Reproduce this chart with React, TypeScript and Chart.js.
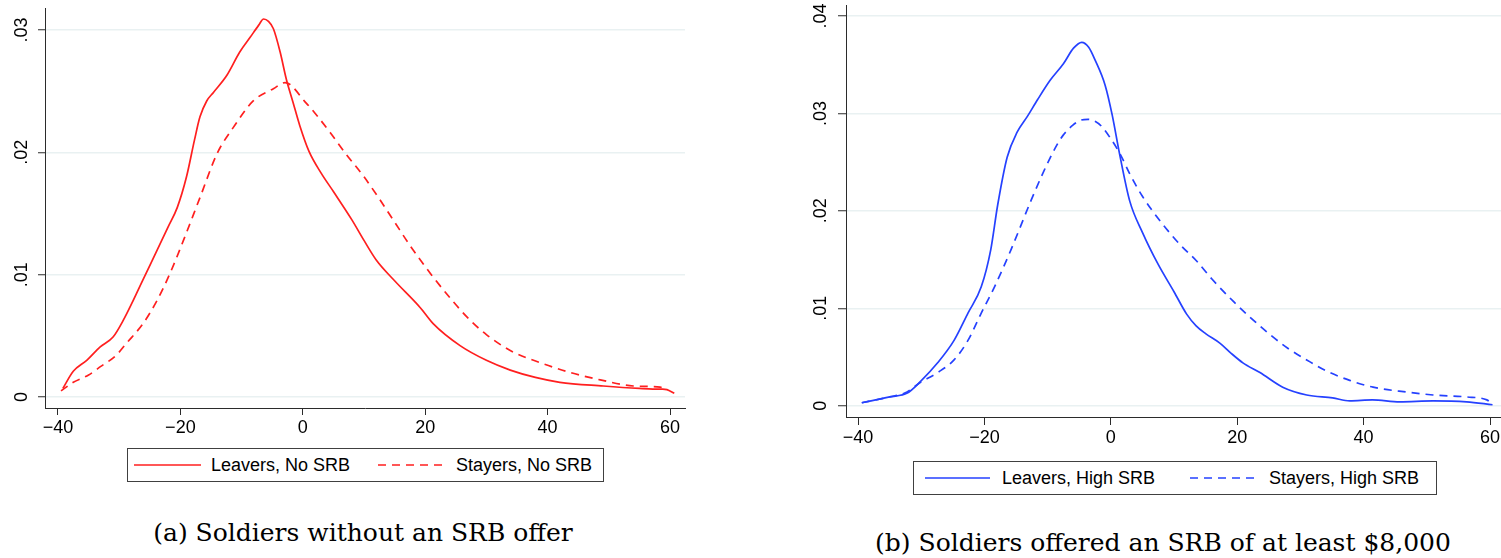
import React, { useEffect, useRef } from 'react';
import { Chart, registerables } from 'chart.js';

Chart.register(...registerables);

// Kernel density of the percentage change, panel (a): no SRB offer
const leaversNoSrbX = [-39.2, -37.5, -35.3, -33.1, -31, -29.3, -27.7, -26.1, -23.8, -22, -20.5, -19, -17.7, -16.8, -15.7, -14.6, -12.4, -10.3, -8.6, -7.2, -6.4, -5.6, -4.8, -3.7, -2.7, -1.6, -0.5, 1, 3, 5, 8, 10, 12, 15, 19.2, 21.3, 25.7, 30, 33.9, 38, 42, 49.1, 55, 57.2, 58.8, 59.5, 60.7];
const leaversNoSrbY = [0.0007, 0.0021, 0.003, 0.0041, 0.0049, 0.0063, 0.0079, 0.0096, 0.012, 0.0139, 0.0155, 0.018, 0.021, 0.0229, 0.0242, 0.0249, 0.0263, 0.0282, 0.0294, 0.0304, 0.0309, 0.0307, 0.0301, 0.0282, 0.026, 0.0241, 0.0222, 0.0201, 0.0183, 0.0168, 0.0145, 0.0128, 0.0112, 0.0095, 0.0073, 0.006, 0.0042, 0.003, 0.0022, 0.0016, 0.0012, 0.0009, 0.0007, 0.00065, 0.00065, 0.0006, 0.0003];

const stayersNoSrbX = [-39.5, -37.5, -35, -33, -30.5, -28.8, -26.1, -23.8, -21.7, -19.5, -16.8, -14, -11.4, -8.1, -4.8, -2.9, 0.6, 2, 4.5, 7, 10, 12.5, 15, 17.5, 21, 24.4, 27.3, 30, 33.9, 38.8, 43.7, 48.6, 54, 58.4, 59.5];
const stayersNoSrbY = [0.0005, 0.0012, 0.0018, 0.0025, 0.0034, 0.0044, 0.006, 0.0079, 0.0101, 0.0128, 0.0163, 0.0199, 0.022, 0.0242, 0.0252, 0.0257, 0.024, 0.0232, 0.0216, 0.0199, 0.018, 0.0162, 0.0143, 0.0124, 0.01, 0.0079, 0.0063, 0.0051, 0.0038, 0.0028, 0.002, 0.0014, 0.0009, 0.0008, 0.0006];

// Panel (b): SRB offer of at least $8,000
const leaversHighSrbX = [-39.4, -35, -32.2, -30.1, -27.4, -24.8, -22.6, -20.5, -19, -17.9, -16.4, -14.8, -13.2, -11.6, -9.6, -7.5, -5.9, -4.6, -3.5, -2.5, -0.9, 0.2, 1.4, 3, 5, 7.5, 10, 12, 13.5, 15, 17.3, 19, 20.9, 23.6, 27.2, 31, 35.1, 37.8, 41.4, 45.7, 51, 56.3, 60.4];
const leaversHighSrbY = [0.0003, 0.0009, 0.0013, 0.0025, 0.0044, 0.0067, 0.0095, 0.0122, 0.016, 0.0206, 0.0255, 0.0281, 0.0297, 0.0314, 0.0334, 0.0351, 0.0367, 0.0373, 0.0368, 0.0355, 0.0329, 0.0299, 0.0258, 0.021, 0.0178, 0.0145, 0.0117, 0.0094, 0.0082, 0.0074, 0.0064, 0.0054, 0.0044, 0.0034, 0.0019, 0.0011, 0.0008, 0.0005, 0.0006, 0.0004, 0.0005, 0.0004, 0.0001];

const stayersHighSrbX = [-39.4, -35, -32.6, -30.1, -27.4, -24.8, -22.6, -20.5, -18.4, -15.8, -12.6, -11, -10, -8.5, -7.5, -6, -4.8, -3.6, -2.5, -1.5, 0, 1.5, 3, 5, 8, 11, 13.5, 16, 19.4, 22, 25, 28, 31, 34, 37.8, 41.5, 46.8, 51, 56.3, 59.5, 60.2];
const stayersHighSrbY = [0.0003, 0.0009, 0.0013, 0.0024, 0.0034, 0.0047, 0.0067, 0.0095, 0.0122, 0.016, 0.0211, 0.0235, 0.0249, 0.0268, 0.0278, 0.0288, 0.0293, 0.0294, 0.0292, 0.0287, 0.0274, 0.0258, 0.0238, 0.0215, 0.0188, 0.0165, 0.0149, 0.013, 0.0107, 0.0091, 0.0074, 0.0059, 0.0047, 0.0036, 0.0026, 0.0019, 0.0014, 0.0011, 0.0009, 0.0006, 0.0003];

const xTickValues = [-40, -20, 0, 20, 40, 60];
const yTicksA = [0, 0.01, 0.02, 0.03];
const yTicksB = [0, 0.01, 0.02, 0.03, 0.04];

const RED = '#ff1f1f';
const BLUE = '#2541ff';
const AXIS = '#2b2b2b';
const GRID = '#e9f1f2';
const SANS = '"Liberation Sans", Arial, Helvetica, sans-serif';
const SERIF = '"DejaVu Serif", serif';

const toPoints = (xs: number[], ys: number[]) => xs.map((x, i) => ({ x, y: ys[i] }));
const fmtX = (v: number) => (v < 0 ? '\u2212' + Math.abs(v) : String(v));
const fmtY = (v: number) => (v === 0 ? '0' : v.toFixed(2).replace(/^0/, ''));

type PanelProps = {
  left: number;
  top: number;
  width: number;
  height: number;
  padTop: number;
  padRight: number;
  yAxisWidth: number;
  xAxisHeight: number;
  tickLen: number;
  yLabelPad: number;
  xLabelPad: number;
  fontSize: number;
  xMin: number;
  xMax: number;
  yMin: number;
  yMax: number;
  yTicks: number[];
  color: string;
  solidLabel: string;
  dashedLabel: string;
  solid: { x: number; y: number }[];
  dashed: { x: number; y: number }[];
};

function DensityPanel(p: PanelProps) {
  const ref = useRef<HTMLCanvasElement | null>(null);
  useEffect(() => {
    if (!ref.current) return;
    const chart = new Chart(ref.current, {
      type: 'line',
      data: {
        datasets: [
          {
            label: p.solidLabel,
            data: p.solid,
            borderColor: p.color,
            borderWidth: 1.7,
            pointRadius: 0,
            cubicInterpolationMode: 'monotone',
            fill: false,
          },
          {
            label: p.dashedLabel,
            data: p.dashed,
            borderColor: p.color,
            borderWidth: 1.7,
            borderDash: [8, 6],
            pointRadius: 0,
            cubicInterpolationMode: 'monotone',
            fill: false,
          },
        ],
      },
      options: {
        animation: false,
        responsive: false,
        maintainAspectRatio: false,
        events: [],
        layout: { padding: { top: p.padTop, right: p.padRight, left: 0, bottom: 0 } },
        plugins: { legend: { display: false }, tooltip: { enabled: false } },
        scales: {
          x: {
            type: 'linear',
            min: p.xMin,
            max: p.xMax,
            afterBuildTicks: (s: any) => {
              s.ticks = xTickValues.map((v) => ({ value: v }));
            },
            afterFit: (s: any) => {
              s.height = p.xAxisHeight;
              s.paddingLeft = 0;
              s.paddingRight = 0;
            },
            grid: { drawOnChartArea: false, drawTicks: true, tickLength: p.tickLen, tickColor: AXIS, tickWidth: 1 },
            border: { color: AXIS, width: 1 },
            ticks: {
              autoSkip: false,
              maxRotation: 0,
              padding: p.xLabelPad,
              color: '#000',
              font: { family: SANS, size: p.fontSize },
              callback: (v: any) => fmtX(Number(v)),
            },
          },
          y: {
            type: 'linear',
            min: p.yMin,
            max: p.yMax,
            afterBuildTicks: (s: any) => {
              s.ticks = p.yTicks.map((v) => ({ value: v }));
            },
            afterFit: (s: any) => {
              s.width = p.yAxisWidth;
              s.paddingTop = 0;
              s.paddingBottom = 0;
            },
            grid: { color: GRID, lineWidth: 1.5, drawTicks: true, tickLength: p.tickLen, tickColor: AXIS, tickWidth: 1 },
            border: { color: AXIS, width: 1 },
            ticks: {
              autoSkip: false,
              minRotation: 90,
              maxRotation: 90,
              crossAlign: 'center',
              padding: p.yLabelPad,
              color: '#000',
              font: { family: SANS, size: p.fontSize },
              callback: (v: any) => fmtY(Number(v)),
            },
          },
        },
      },
    } as any);
    return () => chart.destroy();
  }, []);
  return (
    <canvas
      ref={ref}
      width={p.width}
      height={p.height}
      style={{ position: 'absolute', left: p.left, top: p.top, width: p.width, height: p.height }}
    />
  );
}

type LegendProps = {
  left: number;
  top: number;
  width: number;
  height: number;
  color: string;
  fontSize: number;
  items: { label: string; dashed: boolean; x0: number; x1: number; textX: number }[];
};

function LegendBox(l: LegendProps) {
  return (
    <div
      style={{
        position: 'absolute',
        left: l.left,
        top: l.top,
        width: l.width,
        height: l.height,
        border: '1px solid #404040',
        boxSizing: 'border-box',
        background: '#fff',
      }}
    >
      <svg width={l.width} height={l.height} style={{ position: 'absolute', left: -1, top: -1 }}>
        {l.items.map((it, i) => (
          <line
            key={i}
            x1={it.x0}
            x2={it.x1}
            y1={l.height / 2}
            y2={l.height / 2}
            stroke={l.color}
            strokeWidth={1.7}
            strokeDasharray={it.dashed ? '8 6' : undefined}
          />
        ))}
      </svg>
      {l.items.map((it, i) => (
        <span
          key={i}
          style={{
            position: 'absolute',
            left: it.textX - 1,
            top: -1,
            height: l.height,
            lineHeight: l.height + 'px',
            fontFamily: SANS,
            fontSize: l.fontSize,
            color: '#000',
            whiteSpace: 'nowrap',
          }}
        >
          {it.label}
        </span>
      ))}
    </div>
  );
}

function Caption({ cx, cy, text }: { cx: number; cy: number; text: string }) {
  return (
    <div
      style={{
        position: 'absolute',
        left: cx,
        top: cy - 15,
        transform: 'translateX(-50%)',
        fontFamily: SERIF,
        fontSize: 25,
        lineHeight: '30px',
        color: '#000',
        whiteSpace: 'nowrap',
      }}
    >
      {text}
    </div>
  );
}

export default function App() {
  return (
    <div style={{ position: 'fixed', left: 0, top: 0, width: 1501, height: 558, background: '#fff', overflow: 'hidden' }}>
      <DensityPanel
        left={0}
        top={0}
        width={700}
        height={440}
        padTop={8}
        padRight={15}
        yAxisWidth={45}
        xAxisHeight={32}
        tickLen={7}
        yLabelPad={3}
        xLabelPad={2}
        fontSize={18}
        xMin={-42.12}
        xMax={62.45}
        yMin={-0.0009}
        yMax={0.0318}
        yTicks={yTicksA}
        color={RED}
        solidLabel="Leavers, No SRB"
        dashedLabel="Stayers, No SRB"
        solid={toPoints(leaversNoSrbX, leaversNoSrbY)}
        dashed={toPoints(stayersNoSrbX, stayersNoSrbY)}
      />
      <LegendBox
        left={127}
        top={448}
        width={477}
        height={34}
        color={RED}
        fontSize={18}
        items={[
          { label: 'Leavers, No SRB', dashed: false, x0: 7, x1: 74, textX: 84 },
          { label: 'Stayers, No SRB', dashed: true, x0: 251, x1: 318, textX: 329 },
        ]}
      />
      <Caption cx={363} cy={533} text="(a) Soldiers without an SRB offer" />

      <DensityPanel
        left={790}
        top={0}
        width={711}
        height={450}
        padTop={5}
        padRight={0}
        yAxisWidth={56}
        xAxisHeight={33}
        tickLen={8}
        yLabelPad={4}
        xLabelPad={2}
        fontSize={18}
        xMin={-41.9}
        xMax={61.74}
        yMin={-0.00116}
        yMax={0.04113}
        yTicks={yTicksB}
        color={BLUE}
        solidLabel="Leavers, High SRB"
        dashedLabel="Stayers, High SRB"
        solid={toPoints(leaversHighSrbX, leaversHighSrbY)}
        dashed={toPoints(stayersHighSrbX, stayersHighSrbY)}
      />
      <LegendBox
        left={913}
        top={461}
        width={524}
        height={34}
        color={BLUE}
        fontSize={18}
        items={[
          { label: 'Leavers, High SRB', dashed: false, x0: 12, x1: 77, textX: 89 },
          { label: 'Stayers, High SRB', dashed: true, x0: 277, x1: 342, textX: 356 },
        ]}
      />
      <Caption cx={1163} cy={543} text="(b) Soldiers offered an SRB of at least $8,000" />
    </div>
  );
}
